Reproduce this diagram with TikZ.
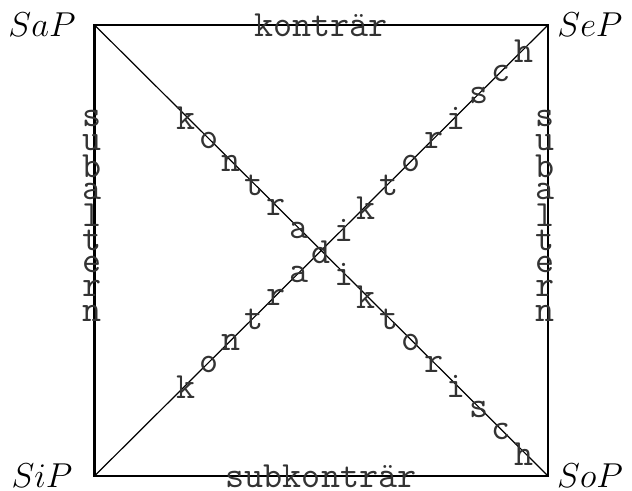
\documentclass[tikz,border=0pt]{standalone}
\usepackage{fontspec}
\usetikzlibrary{calc}
\begin{document}
\begin{tikzpicture}[x=0.5pt,y=-0.5pt,
  lbl/.style={font=\fontsize{16.5}{20}\selectfont, inner sep=0pt},
  tt/.style={font=\fontsize{18.5}{20}\selectfont\ttfamily, inner sep=0pt, text=black!80},
  frame/.style={line width=1.3pt},
  diag/.style={line width=0.6pt}]
\useasboundingbox (0,0) rectangle (632,491);
\coordinate (A) at (94.5,25);
\coordinate (E) at (548,25);
\coordinate (I) at (94.5,476);
\coordinate (O) at (548,476);
\draw[frame] (A) -- (E) -- (O) -- (I) -- cycle;
\draw[diag] (A) -- (O);
\draw[diag] (I) -- (E);
\node[lbl] (sap) at (42,25) {$SaP$};
\node[lbl] (sep) at (590,25) {$SeP$};
\node[lbl] (sip) at (42,476) {$SiP$};
\node[lbl] (sop) at (590,476) {$SoP$};
\node[tt] (kontrar) at (321,25) {konträr};
\node[tt] (subkontrar) at (321,476) {subkonträr};
\foreach \c [count=\i from 0] in {s,u,b,a,l,t,e,r,n} {
  \node[tt] (sl\i) at (92,{118+24.4*\i}) {\c};
  \node[tt] (sr\i) at (545,{118+24.4*\i}) {\c};
}
\foreach \c [count=\j from 0] in {k,o,n,t,r,a,d,i,k,t,o,r,i,s,c,h} {
  \pgfmathsetmacro{\tt}{0.5+(\j-6)*0.0496}
  \node[tt] (da\j) at ($(A)!\tt!(O)+(0,2)$) {\c};
  \ifnum\j=6\else
  \node[tt] (db\j) at ($(I)!\tt!(E)+(0,2)$) {\c};
  \fi
}
\end{tikzpicture}
\end{document}
